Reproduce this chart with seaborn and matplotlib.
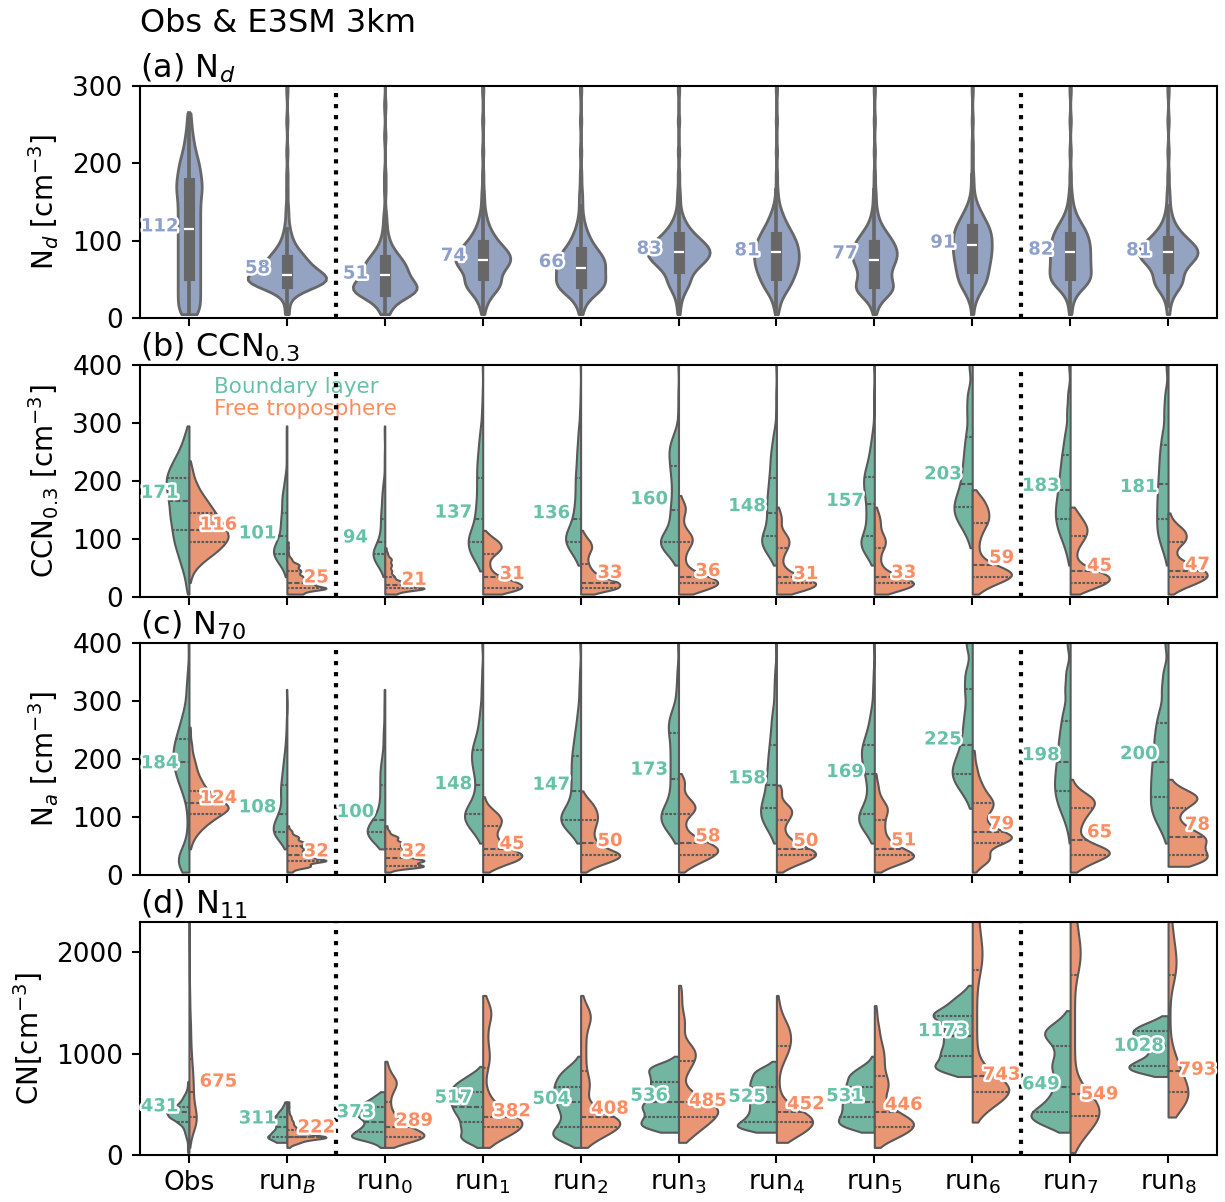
import numpy as np
import pandas as pd
import matplotlib
matplotlib.use("Agg")
import matplotlib.pyplot as plt
import matplotlib.patheffects as pe
import seaborn as sns

categories = ["Obs", "run$_B$", "run$_0$", "run$_1$", "run$_2$", "run$_3$",
              "run$_4$", "run$_5$", "run$_6$", "run$_7$", "run$_8$"]
layers = ["Boundary layer", "Free troposphere"]

grid_nd = np.r_[np.arange(5, 300, 10), 320, 350, 400]
grid_ccn = np.r_[np.arange(5, 300, 10), 320, 350, 400, 450, 500]
grid_cn = np.arange(25, 3000, 50)

# ---------------- (a) N_d ----------------
nd_counts = [
    [5,5,5,5,5,5,5,5,5,5,5,5,5,5,5,5,6,6,5,5,4,3,2,2,1,1,1],
    [2,1,2,8,30,28,16,14,9,5,3,2,1,1,1,0,1,0,1,0,0,1,0,0,0,1,0,0,0,1,0,1,1],
    [3,3,8,24,16,12,13,10,6,3,2,1,1,1,0,0,1,0,1,0,0,0,0,1,0,0,0,1,0,0,0,1,1],
    [1,2,4,9,14,10,16,20,18,12,8,5,3,2,1,1,1,0,1,0,0,1,0,0,0,1,0,0,0,1,0,1,1],
    [1,2,4,12,16,13,14,15,11,7,5,3,2,1,1,1,1,0,1,0,0,1,0,0,0,1,0,0,0,1,0,1,1],
    [1,1,2,4,8,7,12,18,22,18,12,7,4,2,1,1,1,0,1,0,0,1,0,0,0,1,0,0,0,1,0,1,1],
    [1,2,3,7,10,12,14,15,15,14,12,9,6,4,2,1,1,0,1,0,0,1,0,0,0,1,0,0,0,1,0,1,1],
    [1,2,5,14,12,9,11,14,15,13,10,6,3,2,1,1,1,0,1,0,0,1,0,0,0,1,0,0,0,1,0,1,1],
    [1,1,3,6,10,11,12,13,14,14,14,13,10,7,4,2,1,1,1,0,1,0,1,0,0,1,0,0,0,1,1,1,1],
    [1,1,2,5,12,13,12,12,12,12,11,9,6,3,2,1,1,0,1,0,0,1,0,0,0,1,0,0,0,1,0,1,1],
    [1,1,2,5,10,8,10,16,20,16,10,6,3,2,1,1,1,0,1,0,0,1,0,0,0,1,0,0,0,1,0,1,1],
]
nd_labels = [112, 58, 51, 74, 66, 83, 81, 77, 91, 82, 81]

# ---------------- (b) CCN_0.3 ----------------
ccn_bl = [
    [2,3,4,5,7,9,11,13,15,17,18,19,20,21,22,22,23,24,25,26,26,24,21,18,14,11,8,6,4,2],
    [0,0,0,1,2,5,9,12,11,8,6,5,5,5,4,4,4,4,3,2,2,1,0,1,0,1,0,1,0,1],
    [0,0,0,1,3,7,11,13,10,7,5,4,4,4,4,3,3,3,2,2,1,0,1,0,1,0,0,1,0,1],
    [0,0,0,0,1,3,6,9,10,11,10,8,6,5,5,5,4,4,4,4,4,4,4,4,3,3,3,2,2,2,2,1,1,1],
    [0,0,0,0,0,1,3,6,10,13,13,10,7,6,5,5,4,4,4,4,4,4,3,3,3,3,2,2,2,2,2,1,1,1],
    [0,0,0,0,0,1,3,7,11,14,11,6,5,5,5,5,4,4,4,4,4,5,5,5,6,6,5,4,2,1,1,1,1,1],
    [0,0,0,0,0,1,3,6,9,11,10,7,6,6,6,6,6,6,5,5,5,4,4,4,4,3,3,2,2,1,1,1,1,1],
    [0,0,0,0,0,1,3,6,9,10,8,5,5,5,5,5,5,6,6,7,7,6,5,4,3,3,2,2,1,1,1,1,1,1],
    [0,0,0,0,0,0,0,0,1,2,3,5,8,11,12,13,11,10,8,7,7,6,6,6,5,5,5,4,4,4,10,10,8,5,3],
    [0,0,0,0,0,1,2,3,4,6,8,10,11,12,12,12,11,10,10,9,9,8,8,7,7,6,5,5,4,4,8,6,4,3,1],
    [0,0,0,0,0,1,2,3,5,7,8,9,9,9,8,9,9,8,8,8,8,7,7,7,7,6,6,5,5,4,10,8,6,3,2],
]
ccn_ft = [
    [0,0,1,2,4,8,13,19,24,28,30,28,26,23,20,17,14,11,8,6,4,3,2,1],
    [10,26,18,10,9,8,3,1,1,1],
    [8,31,14,7,5,5,5,2,1],
    [10,26,22,10,5,4,4,8,12,10,5,1],
    [6,24,24,12,7,5,4,5,7,6,3,1],
    [4,16,24,14,6,3,3,3,5,7,7,4,2,2,3,4,2,1],
    [5,20,24,12,6,3,3,4,6,7,6,3,2,3,2,1],
    [4,18,24,12,6,3,3,3,5,6,5,3,3,3,2,1],
    [2,6,12,22,20,10,5,3,3,3,4,5,7,8,8,7,6,4,1],
    [3,12,20,22,14,6,3,3,4,6,8,9,8,6,4,2],
    [2,8,16,22,20,14,6,4,5,9,10,9,5,2,1],
]
ccn_bl_labels = [171, 101, 94, 137, 136, 160, 148, 157, 203, 183, 181]
ccn_ft_labels = [116, 25, 21, 31, 33, 36, 31, 33, 59, 45, 47]

# ---------------- (c) N_70 ----------------
na_bl = [
    [4,8,10,7,4,2,1,1,1,1,1,1,2,3,4,6,7,8,9,10,10,10,9,8,7,6,5,4,3,3,5,3,2,1,1],
    [0,0,0,0,1,4,9,12,11,9,7,5,4,5,5,5,4,4,3,3,2,2,1,1,1,0,1,0,0,0,1],
    [0,0,0,0,2,6,11,13,11,7,5,4,3,3,3,3,3,3,3,2,2,1,1,1,1,1,0,1,0,1,1],
    [0,0,0,0,0,1,3,7,11,14,15,12,8,6,5,5,5,6,7,8,8,8,7,5,4,3,3,2,2,2,3,2,2,1,1],
    [0,0,0,0,0,1,3,8,13,16,14,10,7,6,6,6,6,6,6,6,6,5,5,4,4,3,3,2,2,2,3,2,2,1,1],
    [0,0,0,0,0,1,3,7,10,13,13,9,7,5,5,5,5,5,5,5,5,5,5,5,6,7,7,5,4,3,4,3,2,2,1],
    [0,0,0,0,0,1,2,4,7,9,10,10,8,7,6,6,6,5,5,5,5,4,4,4,3,3,3,3,2,2,4,3,2,2,1],
    [0,0,0,0,0,1,3,6,10,12,11,8,6,4,4,5,5,6,7,8,8,9,8,6,5,4,3,3,2,2,3,2,2,1,1],
    [0,0,0,0,0,0,0,0,0,0,0,1,2,4,7,10,13,14,13,11,9,8,7,6,6,6,5,5,5,5,14,14,15,10,6],
    [0,0,0,0,0,1,1,2,3,5,7,9,11,12,13,13,13,12,12,11,11,10,10,9,9,8,7,7,6,5,13,11,9,5,2],
    [0,0,0,0,0,1,2,3,5,7,8,9,9,9,8,9,9,8,8,8,8,7,7,7,7,6,6,5,5,4,10,8,6,3,2],
]
na_ft = [
    [0,0,0,0,1,2,4,7,11,16,22,28,24,18,13,10,8,6,5,4,3,2,2,1,1,1],
    [3,14,24,14,10,11,7,3,1],
    [2,18,18,12,9,8,6,2,1],
    [3,10,20,24,16,11,8,8,10,11,9,5,2,1],
    [2,8,18,24,14,9,7,7,8,9,9,8,6,3,1],
    [2,6,12,18,20,15,8,4,3,3,6,9,7,4,2,3,3,1],
    [2,8,16,22,18,10,6,4,4,6,8,8,4,2,3,2],
    [2,8,18,22,14,9,6,5,5,5,6,7,5,3,2,2,1,1],
    [1,3,8,7,5,12,20,12,6,5,6,8,9,7,5,4,3,2,2,1,1,1],
    [2,7,12,20,18,9,5,4,5,6,8,10,12,10,5,2,1],
    [0,6,12,12,10,11,12,8,5,3,3,5,8,10,6,2,1],
]
na_bl_labels = [184, 108, 100, 148, 147, 173, 158, 169, 225, 198, 200]
na_ft_labels = [124, 32, 32, 45, 50, 58, 50, 51, 79, 65, 78]

# ---------------- (d) N_11 ----------------
cn_bl = [
    [1,1,1,2,3,4,8,14,16,10,6,4,2,1,1],
    [0,0,5,10,7,5,6,6,4,2,1],
    [0,1,3,10,8,6,5,7,8,8,5,3,1],
    [0,2,8,12,10,11,11,12,14,15,16,16,16,15,12,8,4,1],
    [0,2,8,14,14,12,10,9,10,11,12,13,13,13,12,11,9,6,3,1],
    [0,0,0,0,6,14,14,12,12,14,12,10,10,10,10,10,11,11,4,1],
    [0,0,0,0,6,16,12,10,9,9,9,9,9,9,9,8,8,4,1],
    [0,0,0,0,4,12,14,13,12,12,12,11,11,11,10,10,8,5,2,1],
    [0,0,0,0,0,0,0,0,0,0,0,0,0,0,0,3,10,12,9,9,9,8,8,8,8,7,9,13,10,7,6,4,2,1],
    [0,0,0,0,2,8,12,16,14,10,8,7,6,5,5,5,6,7,6,5,5,5,7,10,10,7,4,2,1],
    [0,0,0,0,0,0,0,0,0,0,0,0,0,0,0,4,14,16,12,8,7,8,10,13,14,11,6,2],
]
cn_ft = [
    [0,1,1,2,3,7,12,11,8,6,5,5,5,5,5,5,4,4,3,3,3,2,2,2,2,2,2,1,1,1,
     1,1,1,0,1,0,1,0,1,0,1,0,0,1,0,0,1,0,0,1],
    [0,1,6,20,8,4,3,2,1,1,1],
    [0,1,8,18,14,9,6,4,3,2,2,2,3,4,5,3,2,1,1],
    [0,1,4,9,14,18,20,16,10,6,4,3,2,1,1,1,2,2,3,3,3,2,2,2,2,2,3,4,4,3,2,1],
    [0,1,4,8,12,17,20,16,8,4,2,2,3,4,4,3,2,2,2,2,2,2,2,2,2,3,4,5,4,2,1,1],
    [0,0,2,4,6,8,10,12,14,14,10,6,4,2,1,2,3,4,5,6,6,5,2,1,2,2,2,2,1,1,1,1,1,1],
    [0,0,3,8,12,15,18,17,12,6,3,2,1,1,1,1,1,2,3,4,5,6,6,6,6,5,4,2,2,1,1,1],
    [0,1,4,10,14,17,18,14,9,6,4,4,5,6,6,5,4,4,4,4,4,3,3,2,2,2,1,1,1,1],
    [0,0,0,0,0,0,1,2,4,7,11,20,25,24,18,9,6,4,3,2,2,2,2,2,2,2,2,2,2,2,
     2,2,2,2,3,3,4,4,5,5,5,4,4,4,3,3,3,3,3,2,2,2,2,1,1,1],
    [1,2,4,6,8,10,12,16,18,16,13,11,8,5,3,2,2,2,2,2,2,2,2,2,2,2,2,2,2,2,
     2,2,2,2,2,3,4,5,5,5,5,5,4,4,3,3,3,3,2,2,2,1,1,1],
    [0,0,0,0,0,0,0,2,5,9,12,13,12,11,9,8,7,6,5,4,3,2,1,1,1,1,1,1,1,1,
     1,1,1,3,3,4,4,5,5,4,4,3,3,3,2,2,2,2,1,1,1],
]
cn_bl_labels = [431, 311, 373, 517, 504, 536, 525, 531, 1173, 649, 1028]
cn_ft_labels = [675, 222, 289, 382, 408, 485, 452, 446, 743, 549, 793]

# violin widths per category (the Obs violins of panels (a) and (d) are narrower)
obs_width_a = 0.26
widths_bc = [0.8] * 11
widths_d = [0.45] + [0.8] * 10


def expand(grid, counts):
    c = np.asarray(counts, dtype=int)
    return np.repeat(grid[:len(c)], c)


def frame_single(counts_list, grid):
    parts = [pd.DataFrame({"cat": cat, "val": expand(grid, c)})
             for cat, c in zip(categories, counts_list)]
    return pd.concat(parts, ignore_index=True)


def frame_split(bl, ft, grid):
    parts = []
    for cat, cb, cf in zip(categories, bl, ft):
        parts.append(pd.DataFrame({"cat": cat, "layer": layers[0], "val": expand(grid, cb)}))
        parts.append(pd.DataFrame({"cat": cat, "layer": layers[1], "val": expand(grid, cf)}))
    return pd.concat(parts, ignore_index=True)


set2 = sns.color_palette("Set2")
c_bl, c_ft, c_nd = set2[0], set2[1], set2[2]

plt.rcParams["font.family"] = ["DejaVu Sans"]

fig = plt.figure(figsize=(12.25, 12.02), dpi=100)
L, W = 140 / 1225, 1077 / 1225
H = 232 / 1202
ax_a = fig.add_axes([L, 1 - 318 / 1202, W, H])
ax_b = fig.add_axes([L, 1 - 597 / 1202, W, H])
ax_c = fig.add_axes([L, 1 - 875 / 1202, W, H])
ax_d = fig.add_axes([L, 1 - 1155 / 1202, W, 233 / 1202])

stroke = [pe.withStroke(linewidth=3.5, foreground="white")]
TITLE_FS = 23
TICK_FS = 19
LABEL_FS = 20


def annotate(ax, vals, dx, color):
    for i, v in enumerate(vals):
        ax.text(i + dx, v, f"{v}", color=color, fontsize=13, fontweight="bold",
                ha="center", va="baseline", path_effects=stroke, zorder=6)


# (a)
df_a = frame_single(nd_counts, grid_nd)
a_kws = dict(x="cat", y="val", order=categories, color=c_nd, inner="box", cut=0,
             bw_adjust=0.42, linewidth=2, ax=ax_a, inner_kws=dict(box_width=8))
sns.violinplot(data=df_a[df_a["cat"] != categories[0]], **a_kws)
sns.violinplot(data=df_a[df_a["cat"] == categories[0]], width=obs_width_a, **a_kws)
annotate(ax_a, nd_labels, -0.3, c_nd)
ax_a.set_ylim(0, 300)
ax_a.set_yticks([0, 100, 200, 300])
ax_a.set_ylabel("N$_d$ [cm$^{-3}$]", fontsize=LABEL_FS, labelpad=8)
ax_a.set_title("(a) N$_d$", loc="left", fontsize=TITLE_FS)
fig.text(L, 1 - 32 / 1202, "Obs & E3SM 3km", fontsize=TITLE_FS, va="baseline", ha="left")

split_panels = [
    (ax_b, ccn_bl, ccn_ft, grid_ccn, ccn_bl_labels, ccn_ft_labels, (0, 400),
     [0, 100, 200, 300, 400], "CCN$_{0.3}$ [cm$^{-3}$]", "(b) CCN$_{0.3}$", widths_bc),
    (ax_c, na_bl, na_ft, grid_ccn, na_bl_labels, na_ft_labels, (0, 400),
     [0, 100, 200, 300, 400], "N$_a$ [cm$^{-3}$]", "(c) N$_{70}$", widths_bc),
    (ax_d, cn_bl, cn_ft, grid_cn, cn_bl_labels, cn_ft_labels, (0, 2300),
     [0, 1000, 2000], "CN[cm$^{-3}$]", "(d) N$_{11}$", widths_d),
]
for ax, bl, ft, grid, lb, lf, ylim, yt, ylab, title, widths in split_panels:
    df = frame_split(bl, ft, grid)
    # each category's two halves are scaled together (widest half = full width)
    for cat, wdt in zip(categories, widths):
        sns.violinplot(data=df[df["cat"] == cat], x="cat", y="val", hue="layer",
                       order=categories, hue_order=layers, palette=[c_bl, c_ft],
                       split=True, inner="quart", cut=0, bw_adjust=0.5,
                       density_norm="area", common_norm=True, linewidth=1.5,
                       width=wdt, legend=False, ax=ax)
    annotate(ax, lb, -0.3, c_bl)
    annotate(ax, lf, 0.3, c_ft)
    ax.set_ylim(*ylim)
    ax.set_yticks(yt)
    ax.set_ylabel(ylab, fontsize=LABEL_FS, labelpad=8)
    ax.set_title(title, loc="left", fontsize=TITLE_FS)

ax_b.text(0.069, 0.905, layers[0], transform=ax_b.transAxes, color=c_bl,
          fontsize=15.5, va="center", ha="left")
ax_b.text(0.069, 0.81, layers[1], transform=ax_b.transAxes, color=c_ft,
          fontsize=15.5, va="center", ha="left")

for ax in (ax_a, ax_b, ax_c, ax_d):
    ax.set_xlim(-0.5, 10.5)
    ax.set_xlabel("")
    ax.axvline(1.5, color="black", linestyle=":", linewidth=3, zorder=4)
    ax.axvline(8.5, color="black", linestyle=":", linewidth=3, zorder=4)
    ax.tick_params(labelsize=TICK_FS, length=6, width=1.5)
    ax.tick_params(axis="y", pad=6.5)
    ax.tick_params(axis="x", pad=5)
    for s in ax.spines.values():
        s.set_linewidth(1.5)
        s.set_visible(True)
for ax in (ax_a, ax_b, ax_c):
    ax.tick_params(axis="x", labelbottom=False)
ax_d.set_xticks(range(len(categories)))
ax_d.set_xticklabels(categories)

fig.savefig("out.png", dpi=100)
